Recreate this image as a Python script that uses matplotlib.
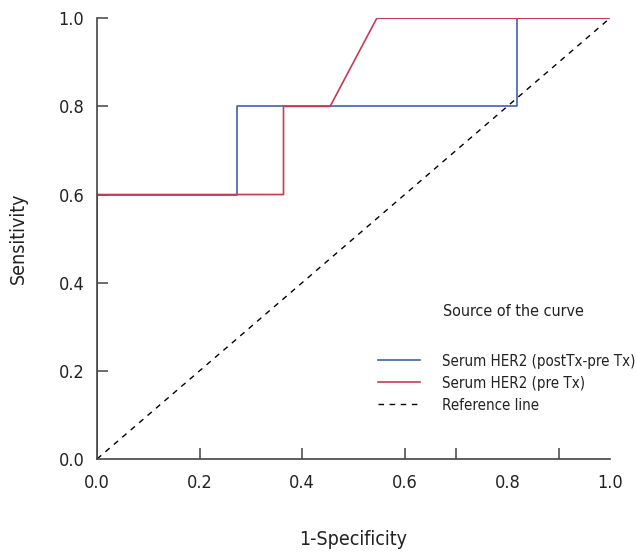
import matplotlib
matplotlib.use('Agg')
import matplotlib.pyplot as plt
from matplotlib import font_manager

# prefer a condensed sans face if one is installed
available = {f.name for f in font_manager.fontManager.ttflist}
condensed = [f for f in font_manager.fontManager.ttflist
             if f.stretch in ('condensed', 'semi-condensed', 500 - 125) and 'Sans' in f.name]
if 'Liberation Sans Narrow' in available:
    plt.rcParams['font.family'] = ['Liberation Sans Narrow', 'DejaVu Sans']
elif condensed:
    plt.rcParams['font.family'] = [condensed[0].name, 'DejaVu Sans']
    plt.rcParams['font.stretch'] = 'condensed'
else:
    plt.rcParams['font.family'] = ['Liberation Sans', 'DejaVu Sans']

# ROC points (1-specificity, sensitivity)
fpr_change = [0.0, 0.0, 0.2727, 0.2727, 0.8182, 0.8182, 1.0]
tpr_change = [0.0, 0.6, 0.6, 0.8, 0.8, 1.0, 1.0]

fpr_pre = [0.0, 0.0, 0.3636, 0.3636, 0.4545, 0.5455, 1.0]
tpr_pre = [0.0, 0.6, 0.6, 0.8, 0.8, 1.0, 1.0]

ref_line = [0.0, 1.0]

labels = ['Serum HER2 (postTx-pre Tx)', 'Serum HER2 (pre Tx)', 'Reference line']
legend_title = 'Source of the curve'
tick_labels = ['0.0', '0.2', '0.4', '0.6', '0.8', '1.0']
tick_vals = [0.0, 0.2, 0.4, 0.6, 0.8, 1.0]
x_marks = [0.2, 0.4, 0.6, 0.7, 0.9]
y_marks = [0.2, 0.4, 0.6, 0.8, 1.0]

blue = '#3d62aa'
red = '#c93a52'

fig = plt.figure(figsize=(6.36, 5.52), dpi=100)
ax = fig.add_axes([0.1525, 0.1685, 0.8065, 0.7985])

h1, = ax.plot(fpr_change, tpr_change, color=blue, lw=1.2)
h2, = ax.plot(fpr_pre, tpr_pre, color=red, lw=1.2)
h3, = ax.plot(ref_line, ref_line, color='black', lw=1.0, linestyle=(0, (4, 4)))

ax.set_xlim(0, 1)
ax.set_ylim(0, 1)

for side in ['top', 'right']:
    ax.spines[side].set_visible(False)
for side in ['left', 'bottom']:
    ax.spines[side].set_color('#444444')
    ax.spines[side].set_linewidth(1.2)

# tick marks (major, no labels) and tick labels (minor, no marks) kept apart
ax.xaxis.remove_overlapping_locs = False
ax.yaxis.remove_overlapping_locs = False
ax.set_xticks(x_marks)
ax.set_xticklabels([])
ax.set_yticks(y_marks)
ax.set_yticklabels([])
ax.tick_params(axis='both', which='major', direction='in', length=8, width=1.1, color='#444444')
ax.set_xticks(tick_vals, minor=True)
ax.set_xticklabels(tick_labels, minor=True)
ax.set_yticks(tick_vals, minor=True)
ax.set_yticklabels(tick_labels, minor=True)
ax.tick_params(axis='both', which='minor', length=0, labelsize=13, colors='#222222', pad=9)
ax.tick_params(axis='x', which='minor', pad=11)

ax.set_xlabel('1-Specificity', fontsize=14, color='#222222')
ax.set_ylabel('Sensitivity', fontsize=14, color='#222222')
ax.xaxis.set_label_coords(0.5, -0.162)
ax.yaxis.set_label_coords(-0.135, 0.5)

ax.text(0.675, 0.335, legend_title, transform=ax.transAxes, fontsize=11.5,
        color='#222222', va='center', ha='left')
ax.legend([h1, h2, h3], labels, loc='upper left', bbox_to_anchor=(0.548, 0.239),
          frameon=False, fontsize=10.8, handlelength=2.8, handletextpad=1.45,
          labelspacing=0.47, borderpad=0, borderaxespad=0, labelcolor='#222222')

fig.savefig('out.png', dpi=100)
